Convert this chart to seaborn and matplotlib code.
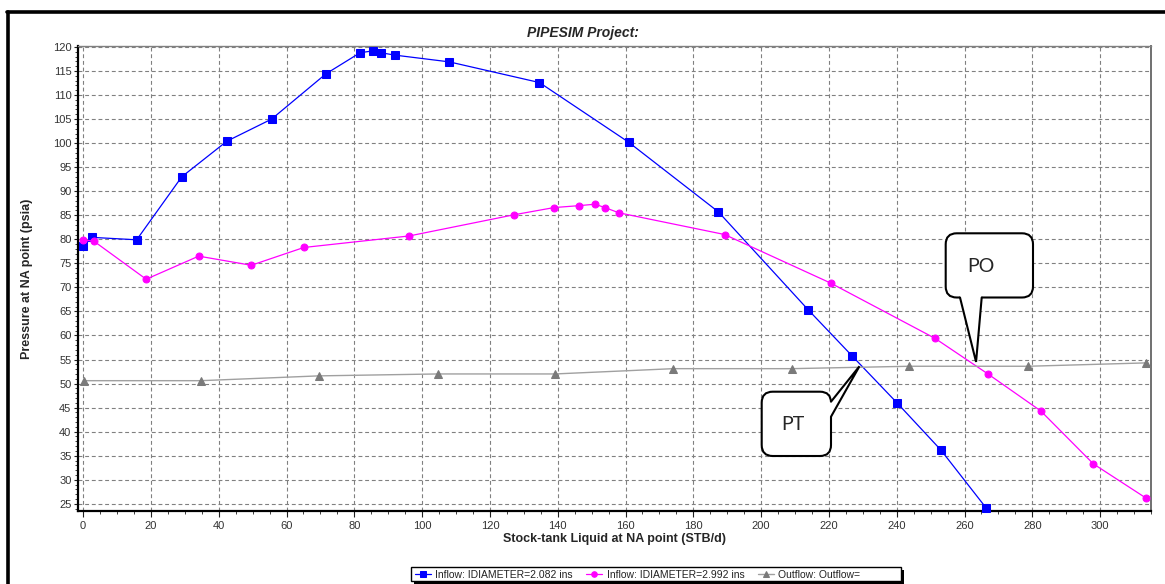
import numpy as np
import pandas as pd
import matplotlib
matplotlib.use("Agg")
import matplotlib.pyplot as plt
import matplotlib.transforms as mtransforms
from matplotlib.patches import FancyBboxPatch, Polygon, Rectangle
from matplotlib.lines import Line2D
from matplotlib.ticker import MultipleLocator
import seaborn as sns

# ---- data -------------------------------------------------------------
inflow_a_x = [0, 2.7, 15.8, 29.1, 42.4, 55.6, 71.6, 81.7, 85.6, 87.8, 92.0,
              108.0, 134.6, 160.9, 187.4, 213.8, 226.9, 240.2, 253.0, 266.3]
inflow_a_y = [78.6, 80.4, 79.9, 93.0, 100.4, 105.0, 114.4, 118.8, 119.2, 118.8,
              118.3, 116.9, 112.6, 100.2, 85.7, 65.4, 55.7, 45.9, 36.2, 24.2]

inflow_b_x = [0, 3.2, 18.6, 34.1, 49.6, 65.1, 96.2, 127.1, 138.9, 146.3, 151.0,
              153.9, 158.1, 189.2, 220.5, 251.3, 266.9, 282.5, 298.0, 313.5]
inflow_b_y = [79.9, 79.6, 71.7, 76.5, 74.6, 78.3, 80.7, 85.1, 86.6, 87.0, 87.3,
              86.6, 85.5, 81.0, 70.9, 59.4, 52.0, 44.3, 33.3, 26.2]

outflow_x = [0.3, 34.7, 69.5, 104.6, 139.2, 174.1, 209.0, 243.7, 278.8, 313.6]
outflow_y = [50.6, 50.6, 51.6, 52.0, 52.0, 53.1, 53.1, 53.6, 53.6, 54.3]

series_labels = ["Inflow: IDIAMETER=2.082 ins",
                 "Inflow: IDIAMETER=2.992 ins",
                 "Outflow: Outflow="]

title = "PIPESIM Project:"
x_label = "Stock-tank Liquid at NA point (STB/d)"
y_label = "Pressure at NA point (psia)"

# operating-point callouts: (label, anchor x, anchor y)
callouts = [("PT", 229.0, 53.6), ("PO", 263.4, 54.5)]

# ---- figure -----------------------------------------------------------
W, H = 1165, 584
sns.set_style("white")
plt.rcParams["font.family"] = ["Liberation Sans", "DejaVu Sans"]

fig = plt.figure(figsize=(W / 100, H / 100), dpi=100)
ax = fig.add_axes([77.7 / W, 1 - 511 / H, (1151 - 77.7) / W, (511 - 46) / H])

frames = [
    pd.DataFrame({"x": inflow_a_x, "y": inflow_a_y}),
    pd.DataFrame({"x": inflow_b_x, "y": inflow_b_y}),
    pd.DataFrame({"x": outflow_x, "y": outflow_y}),
]
styles = [
    dict(color="#0000ff", marker="s", markersize=6.2, mfc="#0000ff", mec="#0000ff", lw=0.9),
    dict(color="#ff00ff", marker="o", markersize=5.0, mfc="#ff00ff", mec="#ff00ff", lw=0.9),
    dict(color="#a0a0a0", marker="^", markersize=6.0, mfc="#7a7a7a", mec="#7a7a7a", lw=1.0),
]
for df, st, lab in zip(frames, styles, series_labels):
    sns.lineplot(data=df, x="x", y="y", ax=ax, label=lab, estimator=None,
                 sort=False, clip_on=False, zorder=3, **st)

ax.set_xlim(-1.6, 315)
ax.set_ylim(23.5, 120.2)
ax.xaxis.set_major_locator(MultipleLocator(20))
ax.xaxis.set_minor_locator(MultipleLocator(5))
ax.yaxis.set_major_locator(MultipleLocator(5))
ax.yaxis.set_minor_locator(MultipleLocator(1))
ax.set_xticks(np.arange(0, 301, 20))
ax.set_yticks(np.arange(25, 121, 5))

ax.grid(True, which="major", color="#808080", linestyle=(0, (3.5, 2.5)), lw=0.8)
ax.set_axisbelow(True)

ax.tick_params(axis="both", which="both", direction="out", color="#202020",
               labelsize=8, labelcolor="#333333")
ax.tick_params(axis="y", which="major", length=3, width=0.8, pad=1.5, left=True)
ax.tick_params(axis="y", which="minor", length=2, width=0.6, left=True)
ax.tick_params(axis="x", which="major", length=4, width=0.8, pad=3, bottom=True)
ax.tick_params(axis="x", which="minor", length=2.5, width=0.6, bottom=True)

for side in ("left", "bottom"):
    ax.spines[side].set_color("black")
    ax.spines[side].set_linewidth(1.6)
ax.spines["top"].set_color("#808080")
ax.spines["top"].set_linewidth(1.0)
ax.spines["right"].set_color("#707070")
ax.spines["right"].set_linewidth(1.4)
for s in ax.spines.values():
    s.set_visible(True)

ax.set_xlabel(x_label, fontsize=9, fontweight="bold")
ax.set_ylabel(y_label, fontsize=9, fontweight="bold")
ax.xaxis.set_label_coords(0.5, -0.047)
ax.yaxis.set_label_coords(-0.0415, 0.5)

fig.text(0.5, 1 - 33 / H, title, ha="center", va="center",
         fontsize=10, fontweight="bold", style="italic")

# pixel transform: image pixels with a top-left origin
px = mtransforms.Affine2D().scale(1 / 100, -1 / 100).translate(0, H / 100) + fig.dpi_scale_trans

# legend along the bottom, inside a box with a solid drop shadow
handles, labels = ax.get_legend_handles_labels()
ax.get_legend().remove()
leg = fig.legend(handles, labels, loc="center left", ncol=3,
                 bbox_to_anchor=(415 / W, 1 - 574.5 / H), fontsize=7.5,
                 frameon=False, handlelength=1.5, handletextpad=0.45,
                 columnspacing=1.3, borderpad=0, borderaxespad=0,
                 markerscale=0.8)
for t in leg.get_texts():
    t.set_color("#222222")
leg.set_zorder(6)
fig.add_artist(Rectangle((414, 570), 490, 14, transform=px, facecolor="black",
                         edgecolor="none", zorder=4))
fig.add_artist(Rectangle((411, 567), 490, 14, transform=px, facecolor="white",
                         edgecolor="black", lw=1.0, zorder=5))

# outer window border (top and left)
fig.add_artist(Line2D([7 / W, 1], [1 - 12 / H, 1 - 12 / H], color="black",
                      lw=2.6, transform=fig.transFigure))
fig.add_artist(Line2D([7.5 / W, 7.5 / W], [1 - 12 / H, 0], color="black",
                      lw=2.6, transform=fig.transFigure))

# ---- speech-bubble callouts


def to_px(xd, yd):
    dx, dy = ax.transData.transform((xd, yd))
    return dx, H - dy


bubble_geom = {
    "PT": dict(box=(761.7, 391.7, 831.0, 456.0),
               base=((831.0, 401.7), (831.0, 416.7)), inward=(-3, 0),
               text=(793, 424)),
    "PO": dict(box=(945.7, 233.3, 1033.0, 297.5),
               base=((960.0, 297.5), (981.7, 297.5)), inward=(0, -3),
               text=(981, 266)),
}

for name, xd, yd in callouts:
    g = bubble_geom[name]
    x0, y0, x1, y1 = g["box"]
    box = FancyBboxPatch((x0, y0), x1 - x0, y1 - y0,
                         boxstyle="round,pad=0,rounding_size=11",
                         transform=px, facecolor="white", edgecolor="black",
                         lw=1.5, zorder=10, clip_on=False)
    fig.add_artist(box)
    tip = to_px(xd, yd)
    (bx1, by1), (bx2, by2) = g["base"]
    ix, iy = g["inward"]
    fill = Polygon([(bx1 + ix, by1 + iy), (bx1, by1), tip, (bx2, by2), (bx2 + ix, by2 + iy)],
                   closed=True, transform=px, facecolor="white", edgecolor="none",
                   zorder=11, clip_on=False)
    fig.add_artist(fill)
    fig.add_artist(Line2D([bx1, tip[0], bx2], [by1, tip[1], by2], color="black",
                          lw=1.5, transform=px, zorder=12, solid_joinstyle="miter"))
    fig.text(g["text"][0], g["text"][1], name, transform=px, ha="center",
             va="center", fontsize=14, family=["Lato", "DejaVu Sans"], zorder=13)

fig.savefig("out.png", dpi=100, facecolor="white")
